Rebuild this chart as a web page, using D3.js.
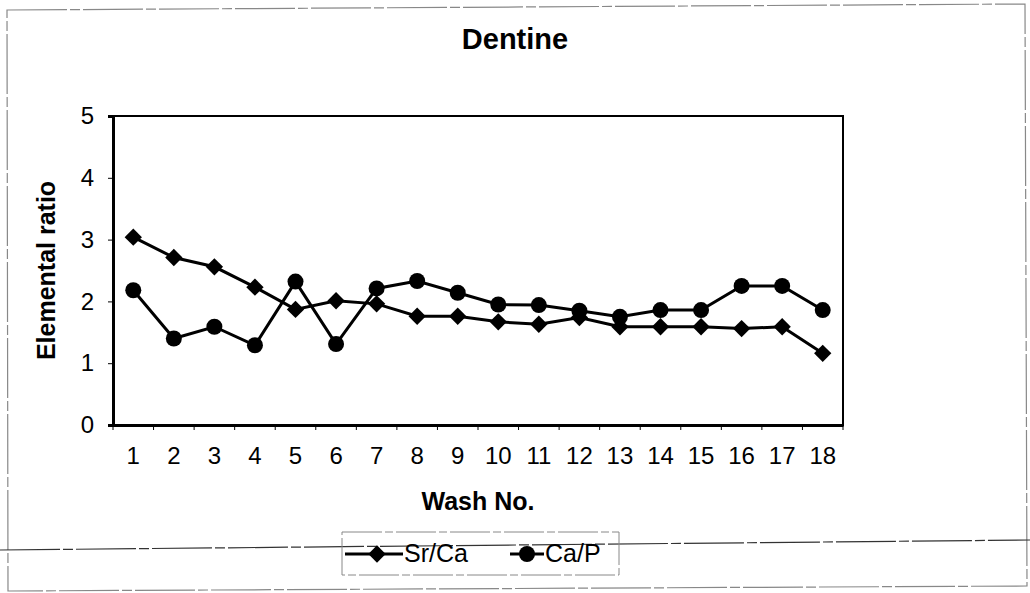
<!DOCTYPE html>
<html lang="en">
<head>
    <meta charset="UTF-8">
    <title>Dentine</title>
    <script src="https://d3js.org/d3.v7.min.js"></script>
    <style>
        body { margin: 0; background: #fff; }
        text { font-family: "Liberation Sans", Arial, sans-serif; fill: #000; }
    </style>
</head>
<body>
    <div id="my_dataviz"></div>

    <script>

    // data
    var washes = ["1","2","3","4","5","6","7","8","9","10","11","12","13","14","15","16","17","18"]
    var srCa = [3.04, 2.71, 2.56, 2.23, 1.87, 2.01, 1.96, 1.76, 1.76, 1.67, 1.63, 1.74, 1.59, 1.59, 1.59, 1.56, 1.59, 1.16]
    var caP  = [2.18, 1.40, 1.59, 1.29, 2.32, 1.31, 2.21, 2.33, 2.14, 1.95, 1.94, 1.85, 1.75, 1.86, 1.86, 2.25, 2.25, 1.86]
    var yTicks = [0, 1, 2, 3, 4, 5]

    var W = 1030, H = 593
    var margin = {top: 116, right: 187, bottom: 168, left: 113},
        width = W - margin.left - margin.right,
        height = H - margin.top - margin.bottom;

    var root = d3.select("#my_dataviz")
        .append("svg")
        .attr("width", W)
        .attr("height", H)

    // scanned page frame lines
    var frame = root.append("g")
        .attr("fill", "none")
        .attr("stroke", "#888")
        .attr("stroke-width", 1.2)
        .attr("stroke-dasharray", "60,3,10,3")
    frame.append("path").attr("d", "M7,10 L1025,4 L1027,586 L8,591 Z")
    frame.append("path").attr("d", "M0,550 L1030,540")
        .attr("stroke", "#333")

    var svg = root.append("g")
        .attr("transform", "translate(" + margin.left + "," + margin.top + ")");

    // scales
    var x = d3.scaleBand()
        .range([0, width])
        .domain(washes)
        .padding(0);

    var y = d3.scaleLinear()
        .range([height, 0])
        .domain([0, 5]);

    // plot frame
    svg.append("rect")
        .attr("width", width)
        .attr("height", height)
        .attr("fill", "none")
        .attr("stroke", "#000")
        .attr("stroke-width", 2)

    // x axis, labels centred in bands, tick marks at band edges
    var xAxis = svg.append("g")
        .attr("transform", "translate(0," + height + ")")
        .call(d3.axisBottom(x).tickSize(0).tickPadding(22))
    xAxis.select(".domain").attr("stroke-width", 3)
    xAxis.selectAll("text").style("font-size", "24px")
    svg.append("g")
        .selectAll("line")
        .data(washes.concat(["end"]))
        .enter()
        .append("line")
            .attr("x1", function(d) { return d == "end" ? width : x(d) })
            .attr("x2", function(d) { return d == "end" ? width : x(d) })
            .attr("y1", height)
            .attr("y2", height + 5)
            .attr("stroke", "#000")
            .attr("stroke-width", 1)

    // y axis
    var yAxis = svg.append("g")
        .call(d3.axisLeft(y).tickValues(yTicks).tickSize(5).tickPadding(14).tickFormat(d3.format("d")))
    yAxis.select(".domain").attr("stroke-width", 3)
    yAxis.selectAll("text").style("font-size", "24px")

    // titles
    root.append("text")
        .attr("x", 515)
        .attr("y", 49)
        .attr("text-anchor", "middle")
        .style("font-size", "29px")
        .style("font-weight", "bold")
        .text("Dentine")

    svg.append("text")
        .attr("x", width / 2)
        .attr("y", height + 85)
        .attr("text-anchor", "middle")
        .style("font-size", "25px")
        .style("font-weight", "bold")
        .text("Wash No.")

    svg.append("text")
        .attr("transform", "translate(-58," + (height / 2) + ") rotate(-90)")
        .attr("text-anchor", "middle")
        .style("font-size", "25px")
        .style("font-weight", "bold")
        .text("Elemental ratio")

    // series
    var cx = function(i) { return x(washes[i]) + x.bandwidth() / 2 }
    var line = d3.line()
        .x(function(d, i) { return cx(i) })
        .y(function(d) { return y(d) })

    var diamond = d3.symbol().type(d3.symbolSquare).size(150)

    svg.append("path")
        .datum(srCa)
        .attr("d", line)
        .attr("fill", "none")
        .attr("stroke", "#000")
        .attr("stroke-width", 3)
    svg.append("path")
        .datum(caP)
        .attr("d", line)
        .attr("fill", "none")
        .attr("stroke", "#000")
        .attr("stroke-width", 3)

    svg.selectAll(".dia")
        .data(srCa)
        .enter()
        .append("path")
            .attr("class", "dia")
            .attr("d", diamond)
            .attr("transform", function(d, i) { return "translate(" + cx(i) + "," + y(d) + ") rotate(45)" })
            .attr("fill", "#000")

    svg.selectAll(".dot")
        .data(caP)
        .enter()
        .append("circle")
            .attr("class", "dot")
            .attr("cx", function(d, i) { return cx(i) })
            .attr("cy", function(d) { return y(d) })
            .attr("r", 8)
            .attr("fill", "#000")

    // legend
    var legend = root.append("g")
    legend.append("rect")
        .attr("x", 342).attr("y", 532)
        .attr("width", 277).attr("height", 43)
        .attr("fill", "none")
        .attr("stroke", "#888")
        .attr("stroke-width", 1)
        .attr("stroke-dasharray", "40,3,8,3")

    var items = [{name: "Sr/Ca", x0: 345, kind: "diamond"}, {name: "Ca/P", x0: 510, kind: "circle"}]
    items.forEach(function(it) {
        var len = it.kind == "diamond" ? 58 : 34
        legend.append("line")
            .attr("x1", it.x0).attr("x2", it.x0 + len)
            .attr("y1", 554).attr("y2", 554)
            .attr("stroke", "#000")
            .attr("stroke-width", 3)
        if (it.kind == "diamond") {
            legend.append("path")
                .attr("d", diamond)
                .attr("transform", "translate(" + (it.x0 + 32) + ",554) rotate(45)")
                .attr("fill", "#000")
        } else {
            legend.append("circle")
                .attr("cx", it.x0 + 17).attr("cy", 554).attr("r", 8)
                .attr("fill", "#000")
        }
        legend.append("text")
            .attr("x", it.x0 + len + 1)
            .attr("y", 562)
            .style("font-size", "25px")
            .text(it.name)
    })

    </script>
</body>
</html>
